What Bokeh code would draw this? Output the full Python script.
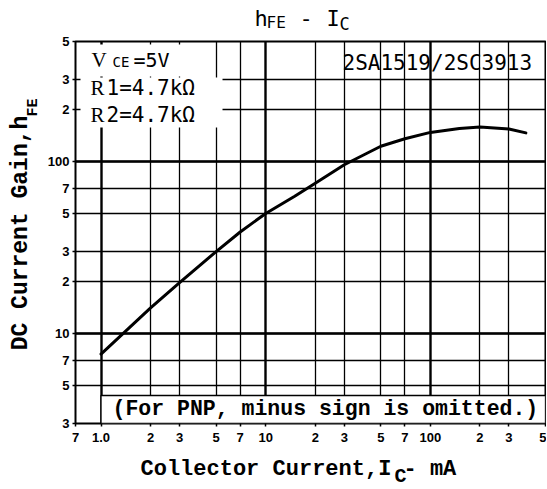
import math
from bokeh.plotting import figure
from bokeh.models import FixedTicker, Grid, Label, Range1d
from bokeh.layouts import column, row
from bokeh.embed import file_html
from bokeh.resources import INLINE

# ---------------- data ----------------
ic_ma = [1.0, 2.0, 3.0, 5.0, 7.0, 10, 15, 20, 30, 50, 70, 100, 150, 200, 300, 380]
hfe = [7.6, 14.1, 19.8, 30, 39, 50, 63, 75, 96, 123, 136, 148, 156, 159, 155, 147]

x_ticks = [0.7, 1, 2, 3, 5, 7, 10, 20, 30, 50, 70, 100, 200, 300, 500]
x_tick_labels = ["7", "1.0", "2", "3", "5", "7", "10", "2", "3", "5", "7", "100", "2", "3", "5"]
y_ticks = [3, 5, 7, 10, 20, 30, 50, 70, 100, 200, 300, 500]
y_tick_labels = ["3", "5", "7", "10", "2", "3", "5", "7", "100", "2", "3", "5"]
x_decades = [1, 10, 100]
y_decades = [10, 100]

title_parts = ["h", "FE", "-", "I", "C"]
part_no = "2SA1519/2SC3913"
cond_v = ["V", "CE", "=5V"]
cond_r1 = ["R", "1=4.7kΩ"]
cond_r2 = ["R", "2=4.7kΩ"]
note = "(For PNP, minus sign is omitted.)"
xlabel_parts = ["Collector Current,I", "C", " - mA"]
ylabel_parts = ["DC Current Gain,h", "FE"]

# ---------------- layout geometry (page pixels) ----------------
XL, XR = 0.7, 500
YB, YT = 3, 500
FX0, FX1, FY0, FY1 = 75, 545, 41, 423     # plot frame
PAGE_W, PAGE_H = 546, 488
TOP_H = 34          # title strip
LEFT_W = 44         # y-label strip
MAIN_H = 419        # main plot
BOT_H = PAGE_H - TOP_H - MAIN_H
MAIN_X0 = LEFT_W
MAIN_Y0 = TOP_H

# how far the drawn baseline sits below the requested one (fraction of the font size)
BASE_SHIFT = {"DejaVu Sans Mono": 0.38, "Liberation Serif": 0.38, "Liberation Mono": 0.28}


def dx(px):
    return 10 ** (math.log10(XL) + (px - FX0) / (FX1 - FX0) * math.log10(XR / XL))


def dy(py):
    return 10 ** (math.log10(YT) - (py - FY0) / (FY1 - FY0) * math.log10(YT / YB))


def shift(size, font):
    return BASE_SHIFT[font] * float(size.replace("px", ""))


def add_text(fig, text, x, y, size, font="DejaVu Sans Mono", style="normal", angle=0.0,
             align="left", baseline="alphabetic"):
    fig.add_layout(Label(x=x, y=y, text=text, text_font=font, text_font_style=style,
                         text_font_size=size, text_color="black", angle=angle,
                         text_align=align, text_baseline=baseline))


def strip(w, h, x0, y0):
    f = figure(width=w, height=h, x_range=Range1d(x0, x0 + w), y_range=Range1d(y0 + h, y0),
               output_backend="svg", toolbar_location=None, min_border=0, title=None,
               x_axis_location=None, y_axis_location=None)
    f.grid.visible = False
    f.outline_line_color = None
    f.background_fill_color = "white"
    f.border_fill_color = "white"
    return f


def htext(fig, text, px, base, size, font="DejaVu Sans Mono", style="normal"):
    add_text(fig, text, px, base - shift(size, font), size, font, style)


def strip_y(page_y):
    # the y-label strip's frame is aligned with the main plot's frame in the row
    return MAIN_Y0 + (page_y - FY0) * MAIN_H / (FY1 - FY0)


def vtext(fig, text, base_x, y_from, y_to, size, font="Liberation Mono", style="bold"):
    # upward text, centred between y_from (start) and y_to (end), baseline at base_x
    add_text(fig, text, base_x - 0.265 * float(size.replace("px", "")), strip_y((y_from + y_to) / 2),
             size, font, style, angle=math.pi / 2, align="center", baseline="middle")


# ---------------- main plot ----------------
p = figure(width=PAGE_W - MAIN_X0, height=MAIN_H, x_axis_type="log", y_axis_type="log",
           x_range=(XL, XR), y_range=(YB, YT), title=None,
           output_backend="svg", toolbar_location=None,
           min_border_left=FX0 - MAIN_X0, min_border_right=PAGE_W - FX1,
           min_border_top=FY0 - MAIN_Y0, min_border_bottom=MAIN_Y0 + MAIN_H - FY1)
p.background_fill_color = "white"
p.border_fill_color = "white"
p.outline_line_color = "black"
p.outline_line_width = 2

for ax, ticks, labels in ((p.xaxis[0], x_ticks, x_tick_labels), (p.yaxis[0], y_ticks, y_tick_labels)):
    ax.ticker = FixedTicker(ticks=ticks)
    ax.major_label_overrides = {float(t): s for t, s in zip(ticks, labels)}
    ax.axis_line_color = None
    ax.major_tick_in = 0
    ax.major_tick_out = 3
    ax.major_tick_line_color = "black"
    ax.major_tick_line_width = 1.5
    ax.minor_tick_line_color = None
    ax.major_label_text_font = "Liberation Sans"
    ax.major_label_text_font_style = "bold"
    ax.major_label_text_font_size = "13px"
    ax.major_label_text_color = "black"
p.xaxis[0].major_label_standoff = 6
p.yaxis[0].major_label_standoff = 3

p.xgrid.ticker = FixedTicker(ticks=x_ticks)
p.ygrid.ticker = FixedTicker(ticks=y_ticks)
for g in (p.xgrid[0], p.ygrid[0]):
    g.grid_line_color = "black"
    g.grid_line_width = 1.3
p.add_layout(Grid(dimension=0, ticker=FixedTicker(ticks=x_decades), grid_line_color="black", grid_line_width=2.3))
p.add_layout(Grid(dimension=1, ticker=FixedTicker(ticks=y_decades), grid_line_color="black", grid_line_width=2.3))

# white backgrounds behind typed texts
p.quad(left=[dx(80)], right=[dx(208)], top=[dy(44)], bottom=[dy(76)], fill_color="white", line_color=None)
p.quad(left=[dx(80)], right=[dx(222)], top=[dy(77)], bottom=[dy(127)], fill_color="white", line_color=None)
p.quad(left=[1.0], right=[XR], top=[dy(395)], bottom=[YB], fill_color="white",
       line_color="black", line_width=1.3)

# curve
p.line(ic_ma, hfe, line_color="black", line_width=3, line_cap="round", line_join="round")


def lab(text, px, base, size, font="DejaVu Sans Mono", style="normal"):
    add_text(p, text, dx(px), dy(base - shift(size, font)), size, font, style)


lab(part_no, 342, 70, "21px")
lab(cond_v[0], 91, 67, "21px", font="Liberation Serif")
lab(cond_v[1], 112, 67, "14px")
lab(cond_v[2], 133, 67, "20px")
lab(cond_r1[0], 90, 95, "21px", font="Liberation Serif")
lab(cond_r1[1], 106, 95, "21px")
lab(cond_r2[0], 90, 122, "21px", font="Liberation Serif")
lab(cond_r2[1], 106, 122, "21px")
lab(note, 112, 415, "21.5px", font="Liberation Mono", style="bold")

# ---------------- title strip ----------------
t = strip(PAGE_W, TOP_H, 0, 0)
htext(t, title_parts[0], 254, 26, "22px")
htext(t, title_parts[1], 266, 28, "16px")
htext(t, title_parts[2], 299, 26, "22px")
htext(t, title_parts[3], 326, 26, "22px")
htext(t, title_parts[4], 339, 30, "17px")

# ---------------- y-label strip ----------------
lft = strip(LEFT_W, MAIN_H, 0, MAIN_Y0)
vtext(lft, ylabel_parts[0], 27, 350, 115, "23px")
vtext(lft, ylabel_parts[1], 37, 116, 98, "15px")

# ---------------- x-label strip ----------------
bot = strip(PAGE_W, BOT_H, 0, MAIN_Y0 + MAIN_H)
htext(bot, xlabel_parts[0], 140, 475, "22px", font="Liberation Mono", style="bold")
htext(bot, xlabel_parts[1], 394, 482, "20px", font="Liberation Mono", style="bold")
htext(bot, xlabel_parts[2], 403, 475, "22px", font="Liberation Mono", style="bold")

layout = column(t, row(lft, p), bot)
open("out.html", "w").write(file_html(layout, INLINE))
